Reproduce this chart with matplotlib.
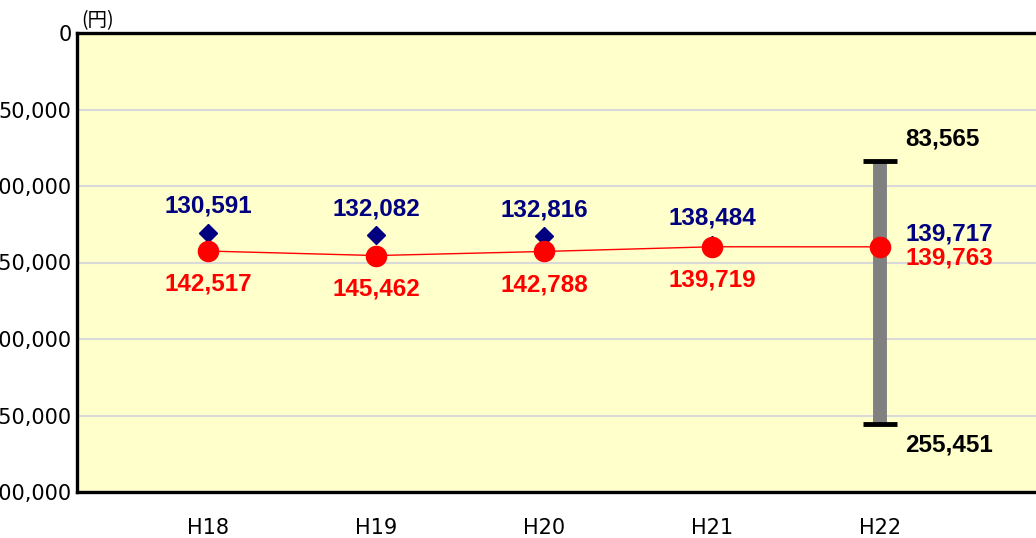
import numpy as np
import matplotlib.pyplot as plt

# 年度ごとの値 (円)
years = ["H18", "H19", "H20", "H21", "H22"]
blue_vals = [130591, 132082, 132816, 138484, 139717]
red_vals = [142517, 145462, 142788, 139719, 139763]
range_min = 83565
range_max = 255451
yticks = [0, 50000, 100000, 150000, 200000, 250000, 300000]

NAVY = "#000080"
RED = "#FF0000"
BOLD_FONT = ["Liberation Sans", "DejaVu Sans"]

plt.rcParams["font.family"] = ["DejaVu Sans", "Noto Sans CJK JP"]

fig = plt.figure(figsize=(10.36, 5.38), dpi=100)
ax = fig.add_axes([77 / 1036, 1 - 492 / 538, (1062 - 77) / 1036, (492 - 33) / 538])
ax.set_facecolor("#FFFFCC")

x = np.arange(len(years))

# range bar for H22
last = x[-1]
mid = red_vals[-1]
eb = ax.errorbar([last], [mid], yerr=[[mid - range_min], [range_max - mid]],
                 fmt="none", ecolor="#808080", elinewidth=10, capsize=12,
                 capthick=3.5, zorder=2)
for cap in eb[1]:
    cap.set_markeredgecolor("black")
    cap.set_markerfacecolor("black")

ax.plot(x, blue_vals, linestyle="none", marker="D", ms=9.5, color=NAVY, zorder=3)
ax.plot(x, red_vals, color=RED, lw=1, marker="o", ms=14.5, zorder=4)

# labels
lbl = dict(fontsize=17.5, fontweight="bold", family=BOLD_FONT,
           textcoords="offset points", va="center")
for i in range(len(years) - 1):
    ax.annotate(f"{blue_vals[i]:,}", (x[i], blue_vals[i]), xytext=(0, 19),
                ha="center", color=NAVY, **lbl)
    ax.annotate(f"{red_vals[i]:,}", (x[i], red_vals[i]), xytext=(0, -24),
                ha="center", color=RED, **lbl)
ax.annotate(f"{blue_vals[-1]:,}", (last, red_vals[-1]), xytext=(18, 9),
            ha="left", color=NAVY, **lbl)
ax.annotate(f"{red_vals[-1]:,}", (last, red_vals[-1]), xytext=(18, -8),
            ha="left", color=RED, **lbl)
ax.annotate(f"{range_min:,}", (last, range_min), xytext=(18, 16),
            ha="left", color="black", **lbl)
ax.annotate(f"{range_max:,}", (last, range_max), xytext=(18, -15),
            ha="left", color="black", **lbl)

ax.set_ylim(300000, 0)
ax.set_yticks(yticks)
ax.set_yticklabels([f"{v:,}" for v in yticks], fontsize=15)
ax.set_xlim(-0.7798, 5.083)
ax.set_xticks(x)
ax.set_xticklabels(years, fontsize=15)
ax.tick_params(length=0)
ax.tick_params(axis="x", pad=19)
ax.tick_params(axis="y", pad=4)

ax.grid(axis="y", color="#D9D9D9", lw=1.5)
ax.set_axisbelow(True)
for side in ["top", "left", "bottom"]:
    ax.spines[side].set_linewidth(2.4)
    ax.spines[side].set_color("black")
ax.spines["right"].set_visible(False)

fig.text(81 / 1036, 1 - 21 / 538, "(円)", fontsize=14, va="center", ha="left",
         family=["Noto Sans CJK JP", "DejaVu Sans"])

fig.savefig("out.png", dpi=100)
